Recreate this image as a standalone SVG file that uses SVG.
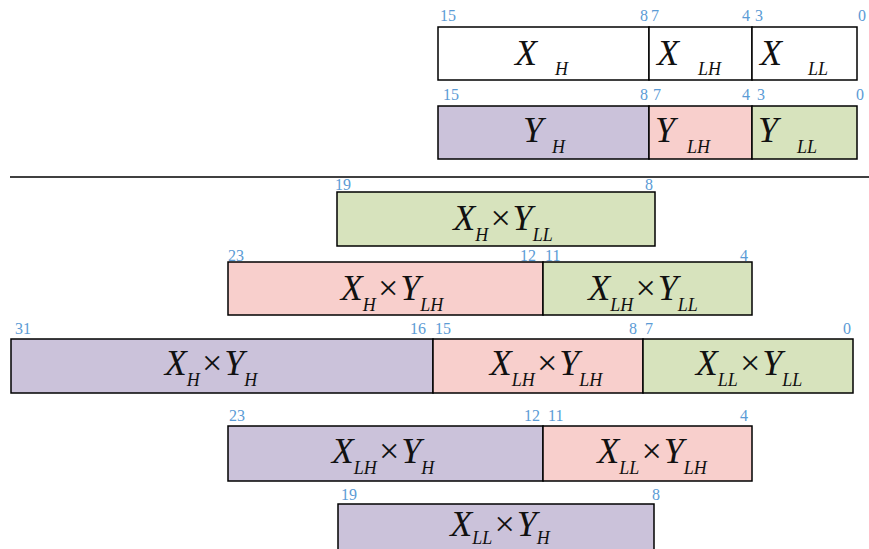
<svg xmlns="http://www.w3.org/2000/svg" width="869" height="549" viewBox="0 0 869 549">
<style>
.c{stroke:#000;stroke-width:1.5}
.w{fill:#fff}.p{fill:#cbc2da}.r{fill:#f8cfcc}.g{fill:#d7e3bd}
.n{font-family:"Liberation Serif","Times New Roman",serif;font-size:16px;fill:#5b9bd5}
.b{font-family:"Liberation Serif","Times New Roman",serif;font-style:italic;font-size:36px;fill:#111}
.s{font-size:18px}
.m{text-anchor:middle}
.e{text-anchor:end}
</style>
<rect width="869" height="549" fill="#fff"/>
<g id="x-reg">
<rect class="c w" x="438" y="27" width="211" height="53"/>
<rect class="c w" x="649" y="27" width="103" height="53"/>
<rect class="c w" x="752" y="27" width="105" height="53"/>
<text class="n" x="440" y="21">15</text><text class="n e" x="648" y="21">8</text><text class="n" x="651" y="21">7</text>
<text class="n e" x="750" y="21">4</text><text class="n" x="755" y="21">3</text><text class="n e" x="866" y="21">0</text>
<text class="b" x="515" y="65">X</text><text class="b s" x="555" y="75">H</text>
<text class="b" x="657" y="65">X</text><text class="b s" x="698" y="75">LH</text>
<text class="b" x="760" y="65">X</text><text class="b s" x="808" y="75">LL</text>
</g>
<g id="y-reg">
<rect class="c p" x="438" y="106" width="211" height="53"/>
<rect class="c r" x="649" y="106" width="103" height="53"/>
<rect class="c g" x="752" y="106" width="105" height="53"/>
<text class="n" x="443" y="100">15</text><text class="n e" x="648" y="100">8</text><text class="n" x="653" y="100">7</text>
<text class="n e" x="750" y="100">4</text><text class="n" x="757" y="100">3</text><text class="n e" x="864" y="100">0</text>
<text class="b" x="523" y="142">Y</text><text class="b s" x="552" y="153">H</text>
<text class="b" x="655" y="142">Y</text><text class="b s" x="687" y="153">LH</text>
<text class="b" x="758" y="142">Y</text><text class="b s" x="797" y="153">LL</text>
</g>
<g id="separator"><line x1="10" y1="177" x2="869" y2="177" stroke="#000" stroke-width="1.5"/></g>
<g id="row1">
<rect class="c g" x="337" y="192" width="318" height="54"/>
<text class="n" x="335" y="190">19</text><text class="n" x="645" y="190">8</text>
<text class="b m" x="503" y="230">X<tspan class="s" dy="11">H</tspan><tspan dy="-11">×</tspan>Y<tspan class="s" dy="11">LL</tspan></text>
</g>
<g id="row2">
<rect class="c r" x="228" y="262" width="315" height="53"/>
<rect class="c g" x="543" y="262" width="209" height="53"/>
<text class="n" x="228" y="261">23</text><text class="n" x="520" y="261">12</text><text class="n" x="545" y="261">11</text><text class="n" x="740" y="261">4</text>
<text class="b m" x="392" y="300">X<tspan class="s" dy="11">H</tspan><tspan dy="-11">×</tspan>Y<tspan class="s" dy="11">LH</tspan></text>
<text class="b m" x="643" y="300">X<tspan class="s" dy="11">LH</tspan><tspan dy="-11">×</tspan>Y<tspan class="s" dy="11">LL</tspan></text>
</g>
<g id="row3">
<rect class="c p" x="11" y="339" width="422" height="54"/>
<rect class="c r" x="433" y="339" width="210" height="54"/>
<rect class="c g" x="643" y="339" width="210" height="54"/>
<text class="n" x="15" y="334">31</text><text class="n" x="410" y="334">16</text><text class="n" x="435" y="334">15</text>
<text class="n" x="629" y="334">8</text><text class="n" x="645" y="334">7</text><text class="n" x="843" y="334">0</text>
<text class="b m" x="211" y="375">X<tspan class="s" dy="11">H</tspan><tspan dy="-11">×</tspan>Y<tspan class="s" dy="11">H</tspan></text>
<text class="b m" x="546" y="375">X<tspan class="s" dy="11">LH</tspan><tspan dy="-11">×</tspan>Y<tspan class="s" dy="11">LH</tspan></text>
<text class="b m" x="749" y="375">X<tspan class="s" dy="11">LL</tspan><tspan dy="-11">×</tspan>Y<tspan class="s" dy="11">LL</tspan></text>
</g>
<g id="row4">
<rect class="c p" x="228" y="426" width="315" height="55"/>
<rect class="c r" x="543" y="426" width="209" height="55"/>
<text class="n" x="229" y="421">23</text><text class="n" x="524" y="421">12</text><text class="n" x="548" y="421">11</text><text class="n" x="740" y="421">4</text>
<text class="b m" x="383" y="463">X<tspan class="s" dy="11">LH</tspan><tspan dy="-11">×</tspan>Y<tspan class="s" dy="11">H</tspan></text>
<text class="b m" x="652" y="463">X<tspan class="s" dy="11">LL</tspan><tspan dy="-11">×</tspan>Y<tspan class="s" dy="11">LH</tspan></text>
</g>
<g id="row5">
<rect class="c p" x="338" y="504" width="316" height="55"/>
<text class="n" x="341" y="500">19</text><text class="n" x="652" y="500">8</text>
<text class="b m" x="500" y="536">X<tspan class="s" dy="8">LL</tspan><tspan dy="-8">×</tspan>Y<tspan class="s" dy="8">H</tspan></text>
</g>
</svg>
